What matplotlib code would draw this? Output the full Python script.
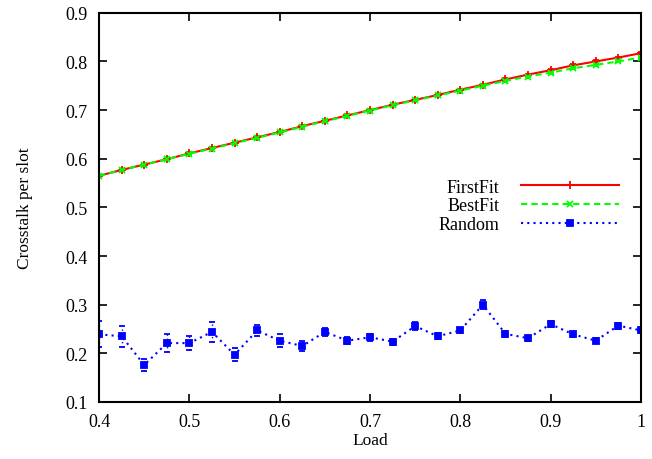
#!/usr/bin/env python3
# Crosstalk per slot vs load, gnuplot-style errorlines
import matplotlib
matplotlib.use("Agg")
import matplotlib.pyplot as plt
from matplotlib.lines import Line2D
from matplotlib.ticker import FuncFormatter

# Data
load = [0.4, 0.425, 0.45, 0.475, 0.5, 0.525, 0.55, 0.575, 0.6, 0.625, 0.65, 0.675, 0.7,
        0.725, 0.75, 0.775, 0.8, 0.825, 0.85, 0.875, 0.9, 0.925, 0.95, 0.975, 1.0]
firstfit = [0.565, 0.577, 0.588, 0.599, 0.611, 0.622, 0.633, 0.644, 0.655, 0.667, 0.678, 0.689, 0.700,
            0.711, 0.721, 0.731, 0.742, 0.752, 0.763, 0.773, 0.782, 0.792, 0.800, 0.808, 0.817]
bestfit = [0.565, 0.577, 0.588, 0.599, 0.610, 0.621, 0.632, 0.643, 0.654, 0.666, 0.677, 0.688, 0.699,
           0.710, 0.720, 0.730, 0.740, 0.750, 0.760, 0.769, 0.777, 0.786, 0.793, 0.800, 0.808]
random_ = [0.239, 0.235, 0.176, 0.221, 0.221, 0.244, 0.197, 0.247, 0.226, 0.215, 0.244, 0.226, 0.233,
           0.224, 0.256, 0.235, 0.247, 0.300, 0.240, 0.231, 0.260, 0.239, 0.226, 0.257, 0.247]
firstfit_err = [0.002] * len(load)
bestfit_err = [0.002] * len(load)
random_err = [0.027, 0.022, 0.012, 0.018, 0.015, 0.020, 0.013, 0.012, 0.013, 0.010, 0.008, 0.007, 0.007,
              0.006, 0.008, 0.006, 0.006, 0.009, 0.006, 0.005, 0.006, 0.005, 0.005, 0.006, 0.006]

plt.rcParams['font.family'] = ['Liberation Serif', 'DejaVu Serif']
plt.rcParams['font.size'] = 13

fig = plt.figure(figsize=(6.52, 4.6), dpi=100)
ax = fig.add_axes([0.152, 0.124, 0.831, 0.846])

series = [
    ("FirstFit", firstfit, firstfit_err, "#ff0000", "-", "+", 6),
    ("BestFit", bestfit, bestfit_err, "#00ff00", (0, (3, 2)), "x", 5),
    ("Random", random_, random_err, "#0000ff", (0, (1, 2)), "s", 4.5),
]

handles = []
for name, vals, err, col, ls, mk, ms in series:
    eb = ax.errorbar(load, vals, yerr=err, color=col, ls=ls, lw=1.5, marker=mk, ms=ms, mew=1.3,
                     elinewidth=1.0, capsize=2.5, capthick=1.0)
    eb[2][0].set_linestyle(ls)
    handles.append(Line2D([], [], color=col, ls=ls, lw=1.5, marker=mk, ms=ms, mew=1.3))

ax.set_xlim(0.4, 1.0)
ax.set_ylim(0.1, 0.9)
ax.set_xticks([0.4, 0.5, 0.6, 0.7, 0.8, 0.9, 1.0])
ax.set_yticks([0.1, 0.2, 0.3, 0.4, 0.5, 0.6, 0.7, 0.8, 0.9])
ax.xaxis.set_major_formatter(FuncFormatter(lambda v, p: "%g" % v))
ax.tick_params(direction='in', length=6, width=1.2, top=True, right=True, pad=8)
for s in ax.spines.values():
    s.set_linewidth(1.5)

ax.set_xlabel("Load", fontsize=12.5)
ax.set_ylabel("Crosstalk per slot", fontsize=12.5)
ax.xaxis.set_label_coords(0.5, -0.077)
ax.yaxis.set_label_coords(-0.122, 0.5)

ax.legend(handles, [s[0] for s in series], loc='center right', bbox_to_anchor=(0.99, 0.504),
          frameon=False, markerfirst=False, handlelength=5.45, handletextpad=1.2,
          labelspacing=0.1, numpoints=1, fontsize=13)

fig.savefig("out.png", dpi=100)
